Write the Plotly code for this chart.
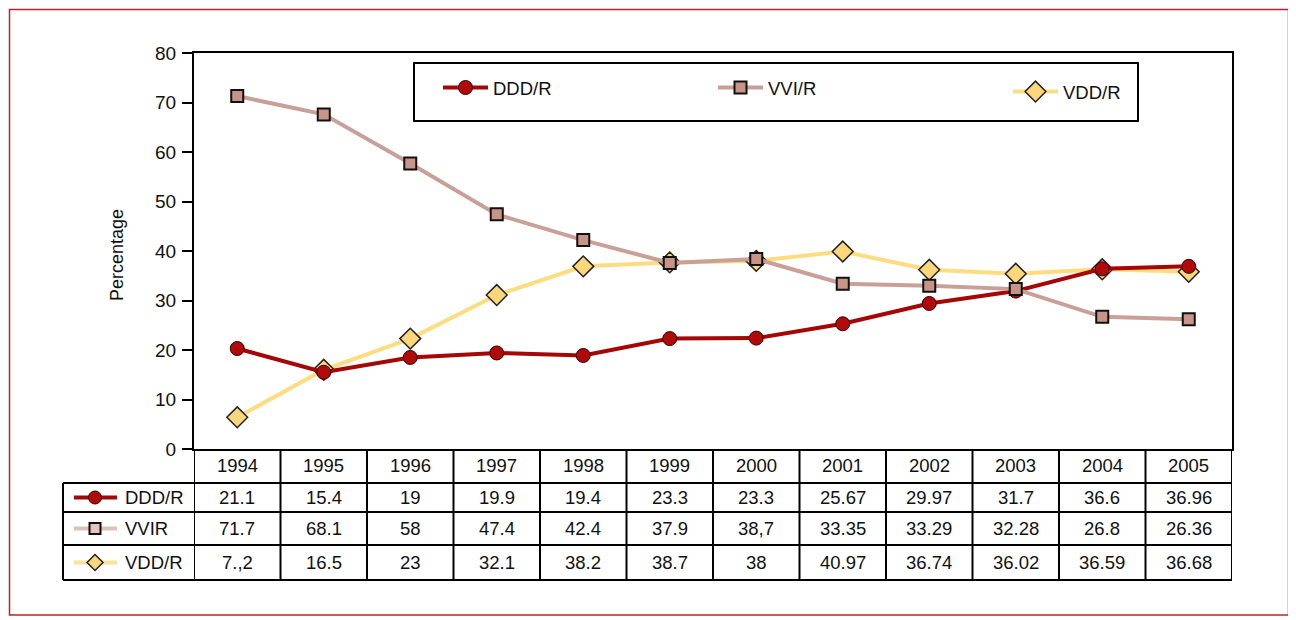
import plotly.graph_objects as go

# ---------------- data ----------------
years = ["1994", "1995", "1996", "1997", "1998", "1999",
         "2000", "2001", "2002", "2003", "2004", "2005"]

# values as plotted in the chart
ddd_plot = [20.3, 15.5, 18.5, 19.4, 18.9, 22.3, 22.4, 25.3, 29.4, 31.9, 36.4, 36.9]
vvi_plot = [71.3, 67.6, 57.7, 47.4, 42.2, 37.6, 38.4, 33.4, 33.0, 32.3, 26.7, 26.2]
vdd_plot = [6.4, 16.0, 22.3, 31.1, 36.9, 37.7, 38.0, 39.9, 36.2, 35.4, 36.3, 35.8]

# values printed in the data table (as printed)
ddd_table = ["21.1", "15.4", "19", "19.9", "19.4", "23.3", "23.3", "25.67", "29.97", "31.7", "36.6", "36.96"]
vvi_table = ["71.7", "68.1", "58", "47.4", "42.4", "37.9", "38,7", "33.35", "33.29", "32.28", "26.8", "26.36"]
vdd_table = ["7.,2", "16.5", "23", "32.1", "38.2", "38.7", "38", "40.97", "36.74", "36.02", "36.59", "36.68"]

series_names = ["DDD/R", "VVI/R", "VDD/R"]
row_labels = ["DDD/R", "VVIR", "VDD/R"]
y_title = "Percentage"
y_ticks = [0, 10, 20, 30, 40, 50, 60, 70, 80]

# ---------------- layout helpers (page pixels -> paper) ----------------
OFF = 8                                   # browser body margin
W, H = 1296 - OFF, 620 - OFF
L, R, T, B = 194, 1232, 53, 449           # plot area in page pixels
PW, PH = R - L, B - T
FONT = "Liberation Sans, Arial, Helvetica, sans-serif"

RED, RED_M = "#A50606", "#B00A0A"
ROSE, ROSE_M = "#C9A097", "#C99488"
YEL, YEL_M = "#FFDC80", "#FCD67A"


def px(xp):
    return (xp - L) / PW


def py(yp):
    return (B - yp) / PH


fig = go.Figure()

fig.add_trace(go.Scatter(
    x=years, y=vdd_plot, name=series_names[2], mode="lines+markers",
    line=dict(color=YEL, width=4),
    marker=dict(symbol="diamond", size=16, color=YEL_M, line=dict(color="#222", width=1.5)),
    legend="legend3"))
fig.add_trace(go.Scatter(
    x=years, y=ddd_plot, name=series_names[0], mode="lines+markers",
    line=dict(color=RED, width=4),
    marker=dict(symbol="circle", size=14, color=RED_M, line=dict(color="#300", width=1)),
    legend="legend"))
fig.add_trace(go.Scatter(
    x=years, y=vvi_plot, name=series_names[1], mode="lines+markers",
    line=dict(color=ROSE, width=4),
    marker=dict(symbol="square", size=12, color=ROSE_M, line=dict(color="#111", width=2)),
    legend="legend2"))

shapes = []
annotations = []
LINE = dict(color="black", width=2)

# table rows (page pixel rows)
rows_px = [449, 483, 512, 545, 580]
left_px = 63

# vertical grid lines of table (column boundaries on the category axis)
for i in range(len(years) + 1):
    shapes.append(dict(type="line", xref="x", yref="paper",
                       x0=i - 0.5, x1=i - 0.5, y0=py(rows_px[0]), y1=py(rows_px[-1]), line=LINE))
shapes.append(dict(type="line", xref="paper", yref="paper",
                   x0=px(left_px), x1=px(left_px), y0=py(rows_px[1]), y1=py(rows_px[-1]), line=LINE))
for r in rows_px[1:]:
    shapes.append(dict(type="line", xref="paper", yref="paper",
                       x0=px(left_px), x1=1, y0=py(r), y1=py(r), line=LINE))

# table text
TFONT = dict(family=FONT, size=18.5, color="#111")
for j, yr in enumerate(years):
    annotations.append(dict(x=j, y=py((rows_px[0] + rows_px[1]) / 2), xref="x", yref="paper",
                            text=yr, showarrow=False, font=TFONT,
                            xanchor="center", yanchor="middle"))
for k, vals in enumerate([ddd_table, vvi_table, vdd_table]):
    yc = py((rows_px[k + 1] + rows_px[k + 2]) / 2)
    for j, v in enumerate(vals):
        annotations.append(dict(x=j, y=yc, xref="x", yref="paper", text=v,
                                showarrow=False, font=TFONT,
                                xanchor="center", yanchor="middle"))
    annotations.append(dict(x=px(123), y=yc, xref="paper", yref="paper", text=row_labels[k],
                            showarrow=False, xanchor="left", yanchor="middle", font=TFONT))

# table glyphs
glyph_line_cols = [RED, "#DCC3BA", "#F8E29C"]
for k in range(3):
    ycp = (rows_px[k + 1] + rows_px[k + 2]) / 2
    shapes.append(dict(type="line", xref="paper", yref="paper", x0=px(74), x1=px(117),
                       y0=py(ycp), y1=py(ycp), line=dict(color=glyph_line_cols[k], width=4)))
cx = px(95)
shapes.append(dict(type="circle", xref="paper", yref="paper", xsizemode="pixel", ysizemode="pixel",
                   xanchor=cx, yanchor=py(497.5), x0=-6.5, x1=6.5, y0=-6.5, y1=6.5,
                   fillcolor=RED_M, line=dict(color="#300", width=1)))
shapes.append(dict(type="rect", xref="paper", yref="paper", xsizemode="pixel", ysizemode="pixel",
                   xanchor=cx, yanchor=py(528.5), x0=-5.5, x1=5.5, y0=-5.5, y1=5.5,
                   fillcolor="#E4C6BD", line=dict(color="#111", width=2)))
shapes.append(dict(type="path", xref="paper", yref="paper", xsizemode="pixel", ysizemode="pixel",
                   xanchor=cx, yanchor=py(562.5), path="M -8 0 L 0 8 L 8 0 L 0 -8 Z",
                   fillcolor=YEL_M, line=dict(color="#222", width=1.5)))

# legend box
shapes.append(dict(type="rect", xref="paper", yref="paper", x0=px(414), x1=px(1138),
                   y0=py(121), y1=py(63), line=LINE, fillcolor="white", layer="below"))

# outer red frame (kept inside the drawable page area)
shapes.append(dict(type="rect", xref="paper", yref="paper", x0=px(9.5), x1=px(1288.5),
                   y0=py(615), y1=py(9.5), line=dict(color="#C41E2A", width=1.5)))

# y axis title
annotations.append(dict(x=px(117), y=py(255), xref="paper", yref="paper", text=y_title,
                        textangle=-90, showarrow=False, xanchor="center", yanchor="middle",
                        font=dict(family=FONT, size=18, color="#111")))


def leg(xpage, ypage):
    return dict(orientation="h", x=px(xpage), y=py(ypage), xanchor="left", yanchor="middle",
                bgcolor="rgba(0,0,0,0)", borderwidth=0, itemwidth=45,
                font=dict(family=FONT, size=18.5, color="#111"))


fig.update_layout(
    width=W, height=H,
    margin=dict(l=L - OFF, r=W - (R - OFF), t=T - OFF, b=H - (B - OFF), pad=0),
    paper_bgcolor="white", plot_bgcolor="white",
    font=dict(family=FONT, color="#111"),
    shapes=shapes, annotations=annotations,
    showlegend=True,
    legend=leg(438, 88),
    legend2=leg(713, 88),
    legend3=leg(1008, 92),
    xaxis=dict(type="category", range=[-0.5, 11.5], showticklabels=False, ticks="",
               showline=True, mirror=True, linecolor="black", linewidth=2,
               showgrid=False, zeroline=False, fixedrange=True),
    yaxis=dict(range=[0, 80], tickvals=y_ticks, ticks="outside", ticklen=10, tickwidth=2,
               tickcolor="black", showline=True, mirror=True, linecolor="black", linewidth=2,
               showgrid=False, zeroline=False, tickfont=dict(family=FONT, size=19, color="#111"),
               ticklabelstandoff=2),
)

fig.write_html("out.html")
